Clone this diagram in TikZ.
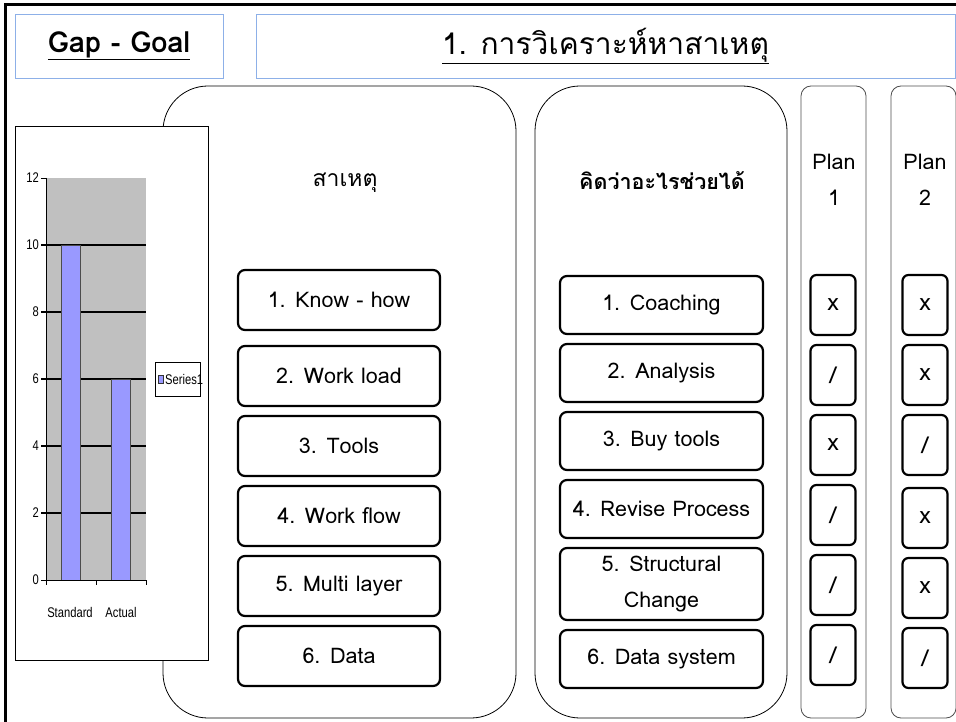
\documentclass[tikz,border=0pt]{standalone}
\usepackage{fontspec}
\setmainfont[Script=Thai]{Loma}
\newfontfamily\chartfont[FakeStretch=0.8]{Liberation Sans}
\usetikzlibrary{positioning}
\definecolor{hdrblue}{RGB}{141,176,232}
\definecolor{chartgray}{RGB}{192,192,192}
\definecolor{barblue}{RGB}{153,153,255}

\begin{document}
\begin{tikzpicture}[x=1pt, y=-1pt, node distance=10pt, font=\fontsize{21.5}{24}\selectfont]

\tikzstyle{headbox} = [rectangle, draw=hdrblue, line width=0.8pt, minimum height=64pt]
\tikzstyle{panel} = [rectangle, rounded corners=45pt, draw=black, line width=0.8pt, minimum height=632pt]
\tikzstyle{plancol} = [rectangle, rounded corners=10pt, draw=black!70, line width=0.8pt, minimum width=65pt, minimum height=632pt]
\tikzstyle{cause} = [rectangle, rounded corners=7pt, minimum width=202pt, minimum height=60pt, text centered, draw=black, line width=2.2pt, outer sep=0pt]
\tikzstyle{fix} = [cause, minimum width=203pt, minimum height=58pt]
\tikzstyle{planmark} = [rectangle, rounded corners=6pt, minimum width=45pt, minimum height=60pt, draw=black, line width=2.2pt, outer sep=0pt, font=\fontsize{23}{24}\selectfont]
\tikzstyle{axislabel} = [font=\chartfont\fontsize{14}{15}\selectfont, inner sep=1pt]

\clip (0,0) rectangle (956,722);

% frame
\draw[line width=3pt] (5,722) |- (956,5);

% header
\node (gapgoal) [headbox, minimum width=208pt] at (119,46) {\fontsize{29}{30}\selectfont\bfseries\underline{Gap - Goal}};
\node (title) [headbox, minimum width=699pt] at (605.5,46) {\fontsize{30}{32}\selectfont\underline{1. การวิเคราะห์หาสาเหตุ}};

% panels
\node (causepanel) [panel, minimum width=353pt] at (339.5,402) {};
\node (fixpanel) [panel, minimum width=252pt] at (661,402) {};
\node (plan1) [plancol] at (833.5,402) {};
\node (plan2) [plancol] at (923.5,402) {};

% chart
\node (chart) [rectangle, draw=black, fill=white, line width=0.8pt, minimum width=193pt, minimum height=534pt] at (111.5,393) {};
\fill[chartgray] (46,178) rectangle (146,580);
\foreach \v in {2,4,...,10}
  \draw[line width=1.2pt] (41,580-33.5*\v) -- (146,580-33.5*\v);
\draw[fill=barblue, draw=black!70] (61,580) rectangle (80,245);
\draw[fill=barblue, draw=black!70] (111,580) rectangle (130,379);
\draw (46,178) -- (46,580) -- (146,580);
\foreach \v in {0,2,...,12} {
  \draw (41,580-33.5*\v) -- (46,580-33.5*\v);
  \node[axislabel, anchor=east] at (40,580-33.5*\v) {\v};
}
\foreach \t in {46,96,146}
  \draw (\t,580) -- (\t,585);
\node (stdlabel) [axislabel] at (70,612) {Standard};
\node (actlabel) [axislabel] at (121,612) {Actual};
\node (legend) [rectangle, draw=black, fill=white, minimum width=45pt, minimum height=34pt] at (177.5,379) {};
\node (series) [axislabel, anchor=west] at (164,379) {Series1};
\draw[fill=barblue, draw=black!80] (158,375) rectangle (163,383);

% column heads
\node (causehead) at (345,183) {\fontsize{23}{24}\selectfont สาเหตุ};
\node (fixhead) at (662,181) {\bfseries คิดว่าอะไรช่วยได้};
\node (plan1head) [align=center] at (834,180) {Plan\\[12pt]1};
\node (plan2head) [align=center] at (925,180) {Plan\\[12pt]2};

% causes
\node (know) [cause] at (339,300) {1. Know - how};
\node (load) [cause] at (339,376) {2. Work load};
\node (tools) [cause, below=of load] {3. Tools};
\node (flow) [cause, below=of tools] {4. Work flow};
\node (layer) [cause, below=of flow] {5. Multi layer};
\node (data) [cause, below=of layer] {6. Data};

% fixes
\node (coach) [fix] at (661.5,305) {1. Coaching};
\node (analysis) [fix, below=of coach] {2. Analysis};
\node (buy) [fix, below=of analysis] {3. Buy tools};
\node (revise) [fix, below=of buy] {4. Revise Process};
\node (struct) [fix, align=center, minimum height=72pt, below=of revise] {5. Structural\\[12pt]Change};
\node (datasys) [fix, below=of struct] {6. Data system};

% plan 1
\node (pa1) [planmark] at (833,305) {x};
\node (pa2) [planmark, below=of pa1] {/};
\node (pa3) [planmark, below=of pa2] {x};
\node (pa4) [planmark, below=of pa3] {/};
\node (pa5) [planmark, below=of pa4] {/};
\node (pa6) [planmark, below=of pa5] {/};

% plan 2
\node (pb1) [planmark] at (925,305) {x};
\node (pb2) [planmark, below=of pb1] {x};
\node (pb3) [planmark, below=of pb2] {/};
\node (pb4) [planmark, below=13pt of pb3] {x};
\node (pb5) [planmark, below=of pb4] {x};
\node (pb6) [planmark, below=of pb5] {/};
\end{tikzpicture}
\end{document}
